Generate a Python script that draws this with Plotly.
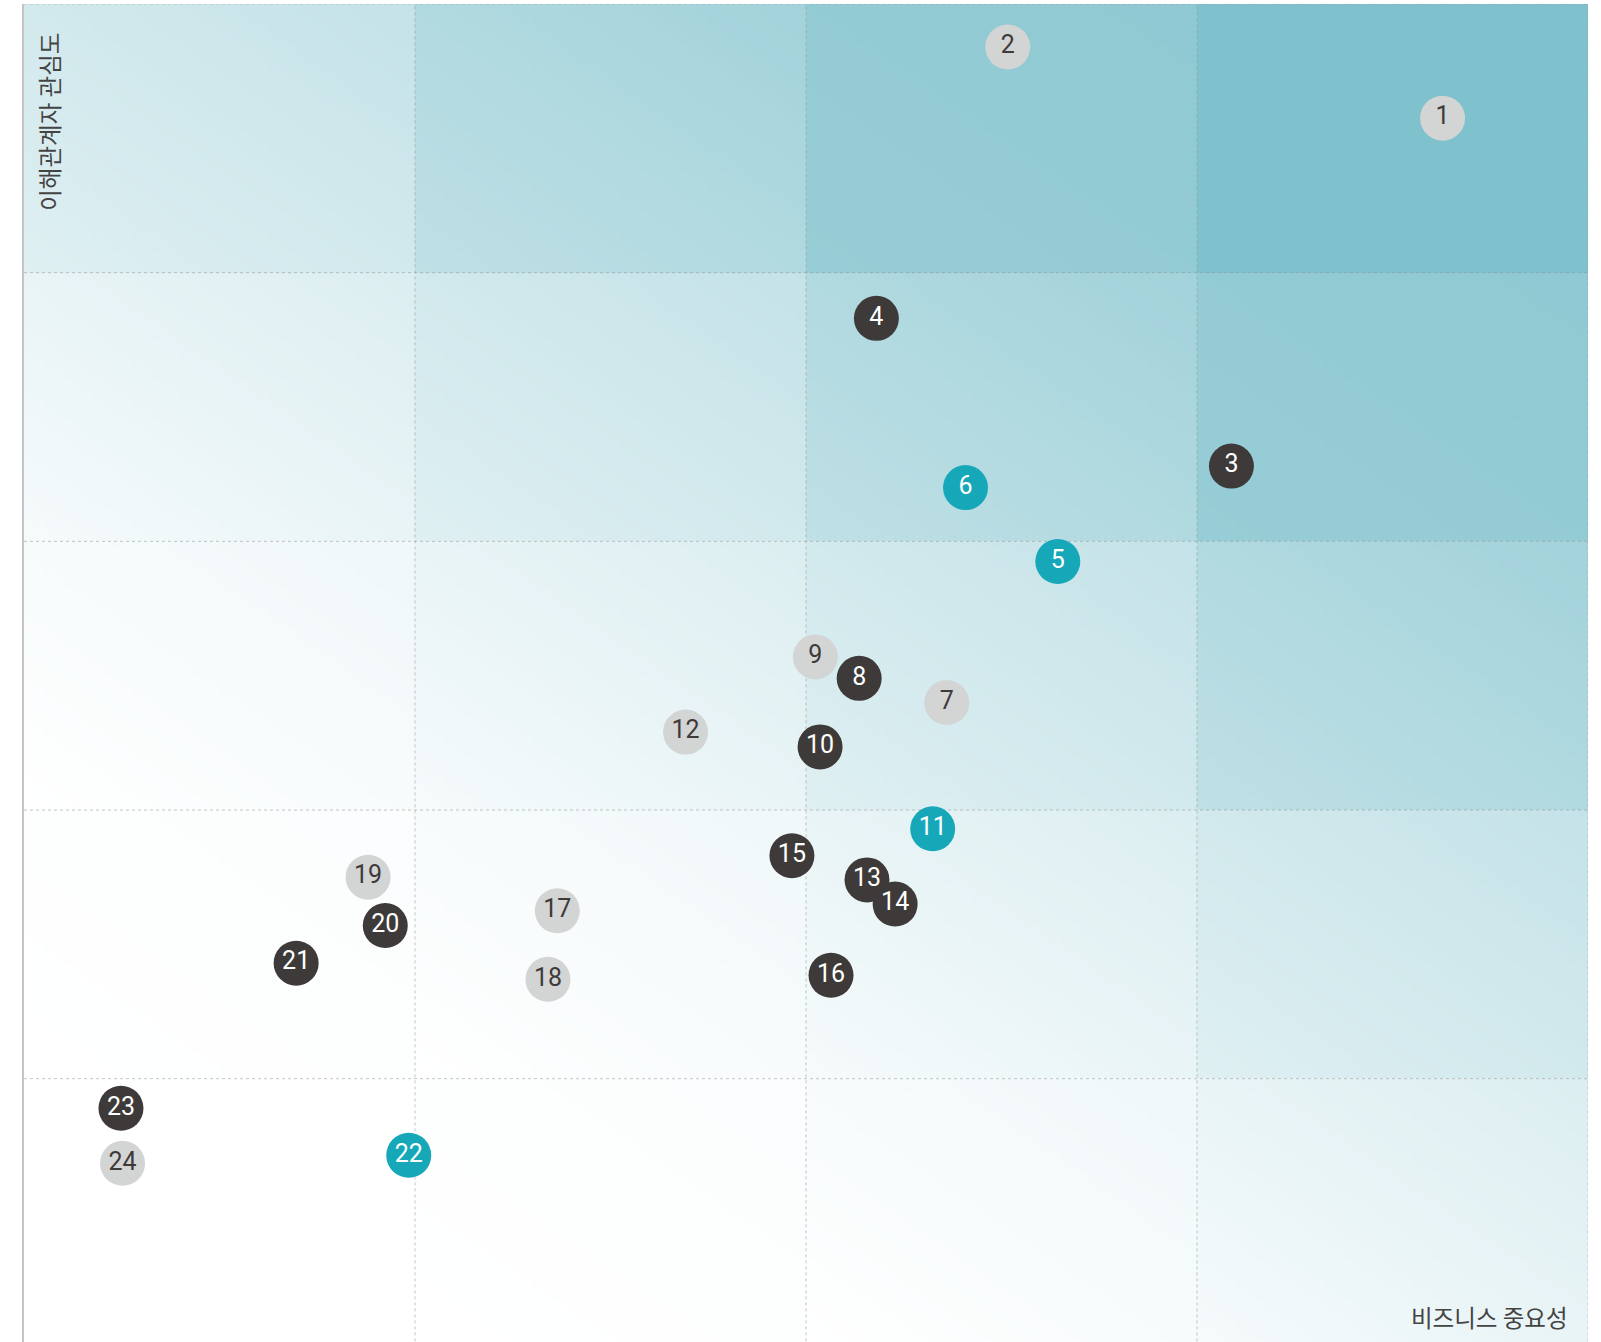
import numpy as np
import plotly.graph_objects as go

# ---- data ----
ids = [str(i) for i in range(1, 25)]
business = [90.7, 62.9, 77.2, 54.5, 66.1, 60.2, 59.0, 53.4, 50.6, 50.9, 58.1, 42.3,
            53.9, 55.7, 49.1, 51.6, 34.1, 33.5, 22.0, 23.1, 17.4, 24.6, 6.2, 6.3]
stakeholder = [91.5, 96.8, 65.6, 76.6, 58.5, 64.0, 48.0, 49.8, 51.4, 44.7, 38.6, 45.8,
               34.8, 33.0, 36.6, 27.7, 32.5, 27.4, 35.0, 31.4, 28.6, 14.3, 17.8, 13.7]
groups = ["grey", "grey", "dark", "dark", "teal", "teal", "grey", "dark", "grey", "dark",
          "teal", "grey", "dark", "dark", "dark", "dark", "grey", "grey", "grey", "dark",
          "dark", "teal", "dark", "grey"]

x_grid = [25, 50, 75, 100]
y_grid = [20, 40, 60, 80, 100]
x_title = "비즈니스 중요성"
y_title = "이해관계자 관심도"

# ---- style ----
fill_colors = {"grey": "#d3d4d4", "dark": "#3e3a39", "teal": "#16a8b9"}
text_colors = {"grey": "#3e3a39", "dark": "#ffffff", "teal": "#ffffff"}
level_lo = [0.0, 0.0, 0.0, 0.07, 0.25, 0.50, 0.81, 1.0]
level_hi = [0.0, 0.03, 0.12, 0.28, 0.46, 0.72, 0.87, 1.0]

# background tint: stepped diagonal gradient per cell
cw, ch, sub = 25.0, 20.0, 40
xs = np.concatenate([c * cw + (np.arange(sub) + 0.5) * cw / sub for c in range(4)])
ys = np.concatenate([r * ch + (np.arange(sub) + 0.5) * ch / sub for r in range(5)])
X, Y = np.meshgrid(xs, ys)
C = np.floor(X / cw).astype(int)
R = np.floor(Y / ch).astype(int)
L = C + R
U = ((X - C * cw) / cw + (Y - R * ch) / ch) / 2.0
lo = np.array(level_lo)[L]
hi = np.array(level_hi)[L]
Z = lo + (hi - lo) * U

fig = go.Figure()
fig.add_trace(go.Heatmap(x=xs, y=ys, z=Z, zmin=0, zmax=1, zsmooth=False,
                         colorscale=[[0, "#ffffff"], [1, "#7fc1cc"]],
                         showscale=False, hoverinfo="skip"))

grid_color = "rgba(150,150,150,0.55)"
for gx in x_grid:
    fig.add_trace(go.Scatter(x=[gx, gx], y=[0, 100], mode="lines",
                             line=dict(color=grid_color, width=1, dash="dot"),
                             hoverinfo="skip", showlegend=False))
for gy in y_grid:
    fig.add_trace(go.Scatter(x=[0, 100], y=[gy, gy], mode="lines",
                             line=dict(color=grid_color, width=1, dash="dot"),
                             hoverinfo="skip", showlegend=False))

fig.add_trace(go.Scatter(
    x=business, y=stakeholder, mode="markers+text", text=ids,
    textposition="middle center",
    marker=dict(size=45, color=[fill_colors[g] for g in groups], line=dict(width=0)),
    textfont=dict(family="Roboto, Open Sans, sans-serif", size=25,
                  color=[text_colors[g] for g in groups]),
    cliponaxis=False, showlegend=False, hoverinfo="text"))

fig.update_xaxes(range=[0, 100], showgrid=False, zeroline=False, showticklabels=False,
                 showline=False, fixedrange=True)
fig.update_yaxes(range=[0.4, 100], showgrid=False, zeroline=False, showticklabels=False,
                 showline=True, linecolor="#c4c4c4", linewidth=2, mirror=False,
                 fixedrange=True)

fig.add_annotation(text=y_title, xref="paper", yref="paper", x=0.016, y=0.98,
                   xanchor="center", yanchor="top", textangle=-90, showarrow=False,
                   font=dict(family="Noto Sans CJK KR", size=23.5, color="#444444"))
fig.add_annotation(text=x_title, xref="paper", yref="paper", x=0.9885, y=0.0185,
                   xanchor="right", yanchor="middle", showarrow=False,
                   font=dict(family="Noto Sans CJK KR", size=23.5, color="#444444"))

fig.update_layout(width=1601, height=1342, margin=dict(l=24, r=13, t=4, b=0),
                  paper_bgcolor="#ffffff", plot_bgcolor="#ffffff", showlegend=False)

fig.write_html("out.html", config={"displayModeBar": False},
               post_script="document.body.style.margin='0';document.body.style.overflow='hidden';")
